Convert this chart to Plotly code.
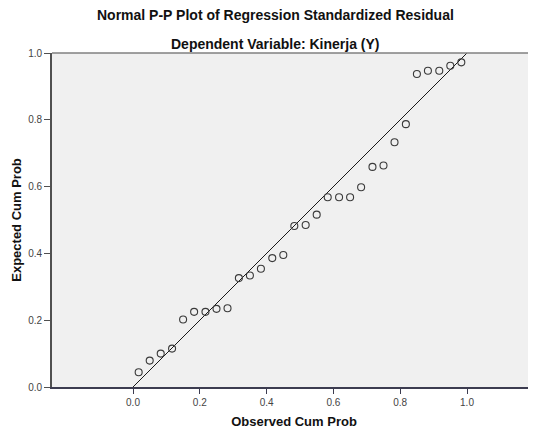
import plotly.graph_objects as go

# Observed vs expected cumulative probabilities
observed_cum_prob = [0.017, 0.050, 0.083, 0.117, 0.150, 0.183, 0.217, 0.250, 0.283, 0.317,
                     0.350, 0.383, 0.417, 0.450, 0.483, 0.517, 0.550, 0.583, 0.617, 0.650,
                     0.683, 0.717, 0.750, 0.783, 0.817, 0.850, 0.883, 0.917, 0.950, 0.983]
expected_cum_prob = [0.044, 0.079, 0.100, 0.115, 0.202, 0.225, 0.225, 0.234, 0.236, 0.326,
                     0.334, 0.354, 0.386, 0.395, 0.482, 0.485, 0.516, 0.568, 0.568, 0.568,
                     0.598, 0.659, 0.663, 0.733, 0.787, 0.937, 0.947, 0.947, 0.962, 0.972]
ref_line_x = [0.0, 1.0]
ref_line_y = [0.0, 1.0]
tick_values = [0.0, 0.2, 0.4, 0.6, 0.8, 1.0]
tick_labels = ["0.0", "0.2", "0.4", "0.6", "0.8", "1.0"]

FONT = "Liberation Sans, Arial, sans-serif"

# page has an 8px body margin; figure sized so it fills the window
W, H = 528, 423
ML, MT, MR, MB = 44, 45, 0, 44
plot_w = W - ML - MR
plot_h = H - MT - MB

fig = go.Figure()
fig.add_trace(go.Scatter(
    x=ref_line_x, y=ref_line_y, mode="lines",
    line=dict(color="#1a1a1a", width=1), hoverinfo="skip", showlegend=False))
fig.add_trace(go.Scatter(
    x=observed_cum_prob, y=expected_cum_prob, mode="markers",
    marker=dict(symbol="circle-open", size=7, color="#3a3a3a", line=dict(width=1.1, color="#3a3a3a")),
    showlegend=False))


def px_to_paper(px, py):
    return (px - ML) / plot_w, (H - MB - py) / plot_h


t1x, t1y = px_to_paper(267, 7)
t2x, t2y = px_to_paper(267.5, 36)

fig.update_layout(
    width=W, height=H,
    margin=dict(l=ML, r=MR, t=MT, b=MB, pad=0),
    paper_bgcolor="white", plot_bgcolor="#f0f0f0",
    font=dict(family=FONT, size=10, color="#333333"),
    xaxis=dict(range=[-0.2425, 1.2066], tickvals=tick_values, ticktext=tick_labels,
               showgrid=False, zeroline=False, showline=True, linecolor="#3c3c50", linewidth=1.6,
               ticks="outside", ticklen=5, tickcolor="#3c3c50", tickwidth=1,
               tickfont=dict(size=10, color="#444444"),
               title=dict(text="<b>Observed Cum Prob</b>", font=dict(size=13, color="#111111"), standoff=10)),
    yaxis=dict(range=[0, 1], tickvals=tick_values, ticktext=tick_labels,
               showgrid=False, zeroline=False, showline=True, linecolor="#505050", linewidth=1.8,
               ticks="outside", ticklen=6, tickcolor="#505050", tickwidth=1,
               tickfont=dict(size=10, color="#444444"),
               title=dict(text="<b>Expected Cum Prob</b>", font=dict(size=13, color="#111111"), standoff=4)),
    shapes=[dict(type="line", xref="x domain", yref="y domain", x0=0, x1=1, y0=1, y1=1,
                 line=dict(color="#808080", width=1.5))],
    annotations=[
        dict(text="<b>Normal P-P Plot of Regression Standardized Residual</b>", x=t1x, y=t1y,
             xref="paper", yref="paper", xanchor="center", yanchor="middle", showarrow=False,
             font=dict(size=14, color="#111111", family=FONT)),
        dict(text="<b>Dependent Variable: Kinerja (Y)</b>", x=t2x, y=t2y,
             xref="paper", yref="paper", xanchor="center", yanchor="middle", showarrow=False,
             font=dict(size=14, color="#111111", family=FONT)),
    ],
)

fig.write_html("out.html")
